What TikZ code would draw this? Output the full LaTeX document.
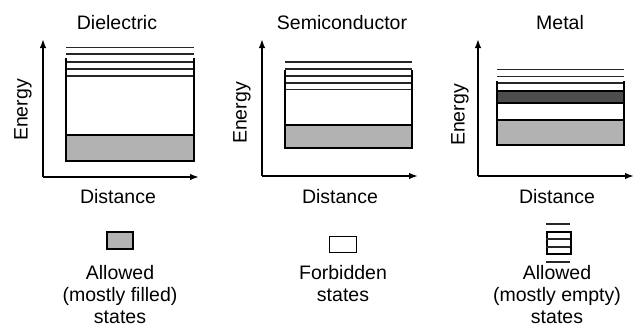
\documentclass[tikz,border=0pt]{standalone}
\usepackage{fontspec}
\setmainfont{Liberation Sans}
\usetikzlibrary{arrows.meta}
\begin{document}
\begin{tikzpicture}[x=1pt,y=-1pt,
  lbl/.style={font=\fontsize{19.5}{22}\selectfont, inner sep=0pt, align=center},
  axis/.style={line width=1.7pt, -{Latex[length=9pt,width=6.5pt]}},
  lvl/.style={line width=1.7pt, black!85},
  filled/.style={fill=black!30, draw=black, line width=1.7pt},
  darkband/.style={fill=black!70, draw=black, line width=1.7pt},
  side/.style={line width=1.7pt}]
\useasboundingbox (0,0) rectangle (642,327);

% ---------- Dielectric ----------
\node[lbl] (t1) at (117,23) {Dielectric};
\coordinate (o1) at (43,177);
\coordinate (y1) at (43,39);
\coordinate (x1) at (199,177);
\draw[axis] (o1) -- (y1);
\draw[axis] (o1) -- (x1);
\node[lbl, rotate=90] (e1) at (23,110) {Energy};
\node[lbl] (d1) at (118,197) {Distance};
\draw[lvl] (66,47.5) -- (194,47.5);
\draw[lvl] (66,54) -- (194,54);
\draw[lvl] (66,62) -- (194,62);
\draw[lvl] (66,69) -- (194,69);
\draw[lvl] (66,76) -- (194,76);
\draw[filled] (66,135) rectangle (194,161);
\draw[side] (66,57.5) -- (66,161);
\draw[side] (194,57.5) -- (194,161);

% ---------- Semiconductor ----------
\node[lbl] (t2) at (342,23) {Semiconductor};
\coordinate (o2) at (262,176);
\coordinate (y2) at (262,39);
\coordinate (x2) at (418,176);
\draw[axis] (o2) -- (y2);
\draw[axis] (o2) -- (x2);
\node[lbl, rotate=90] (e2) at (242,113) {Energy};
\node[lbl] (d2) at (340,197) {Distance};
\draw[lvl] (285,62) -- (412,62);
\draw[lvl] (285,69) -- (412,69);
\draw[lvl] (285,76) -- (412,76);
\draw[lvl] (285,83) -- (412,83);
\draw[lvl] (285,89.5) -- (412,89.5);
\draw[filled] (285,125) rectangle (412,148);
\draw[side] (285,70) -- (285,148);
\draw[side] (412,70) -- (412,148);

% ---------- Metal ----------
\node[lbl] (t3) at (560,23) {Metal};
\coordinate (o3) at (478,176);
\coordinate (y3) at (478,39);
\coordinate (x3) at (634,176);
\draw[axis] (o3) -- (y3);
\draw[axis] (o3) -- (x3);
\node[lbl, rotate=90] (e3) at (460,115) {Energy};
\node[lbl] (d3) at (557,197) {Distance};
\draw[lvl] (497,69.5) -- (624,69.5);
\draw[lvl] (497,76.5) -- (624,76.5);
\draw[lvl] (497,83) -- (624,83);
\draw[darkband] (497,91) rectangle (624,103);
\draw[filled] (497,120) rectangle (624,145);
\draw[side] (497,81) -- (497,145);
\draw[side] (624,81) -- (624,145);

% ---------- Legend ----------
\node[filled, minimum width=26pt, minimum height=17pt, inner sep=0pt] (k1) at (120,240.5) {};
\node[lbl] (l1) at (120,295) {Allowed\\(mostly filled)\\states};

\node[draw=black, line width=1.7pt, fill=white, minimum width=27pt, minimum height=16pt, inner sep=0pt] (k2) at (343,244.5) {};
\node[lbl] (l2) at (343,284) {Forbidden\\states};

\node[draw=black, line width=1.7pt, minimum width=24pt, minimum height=22.5pt, inner sep=0pt] (k3) at (559,243) {};
\draw[lvl] (k3.north west) ++(0,8.3) -- ++(24,0);
\draw[lvl] (k3.north west) ++(0,16) -- ++(24,0);
\draw[lvl] (k3.north west) ++(0,-6.7) -- ++(24,0);
\draw[lvl] (k3.south west) ++(0,7) -- ++(24,0);
\node[lbl] (l3) at (557,295) {Allowed\\(mostly empty)\\states};
\end{tikzpicture}
\end{document}
